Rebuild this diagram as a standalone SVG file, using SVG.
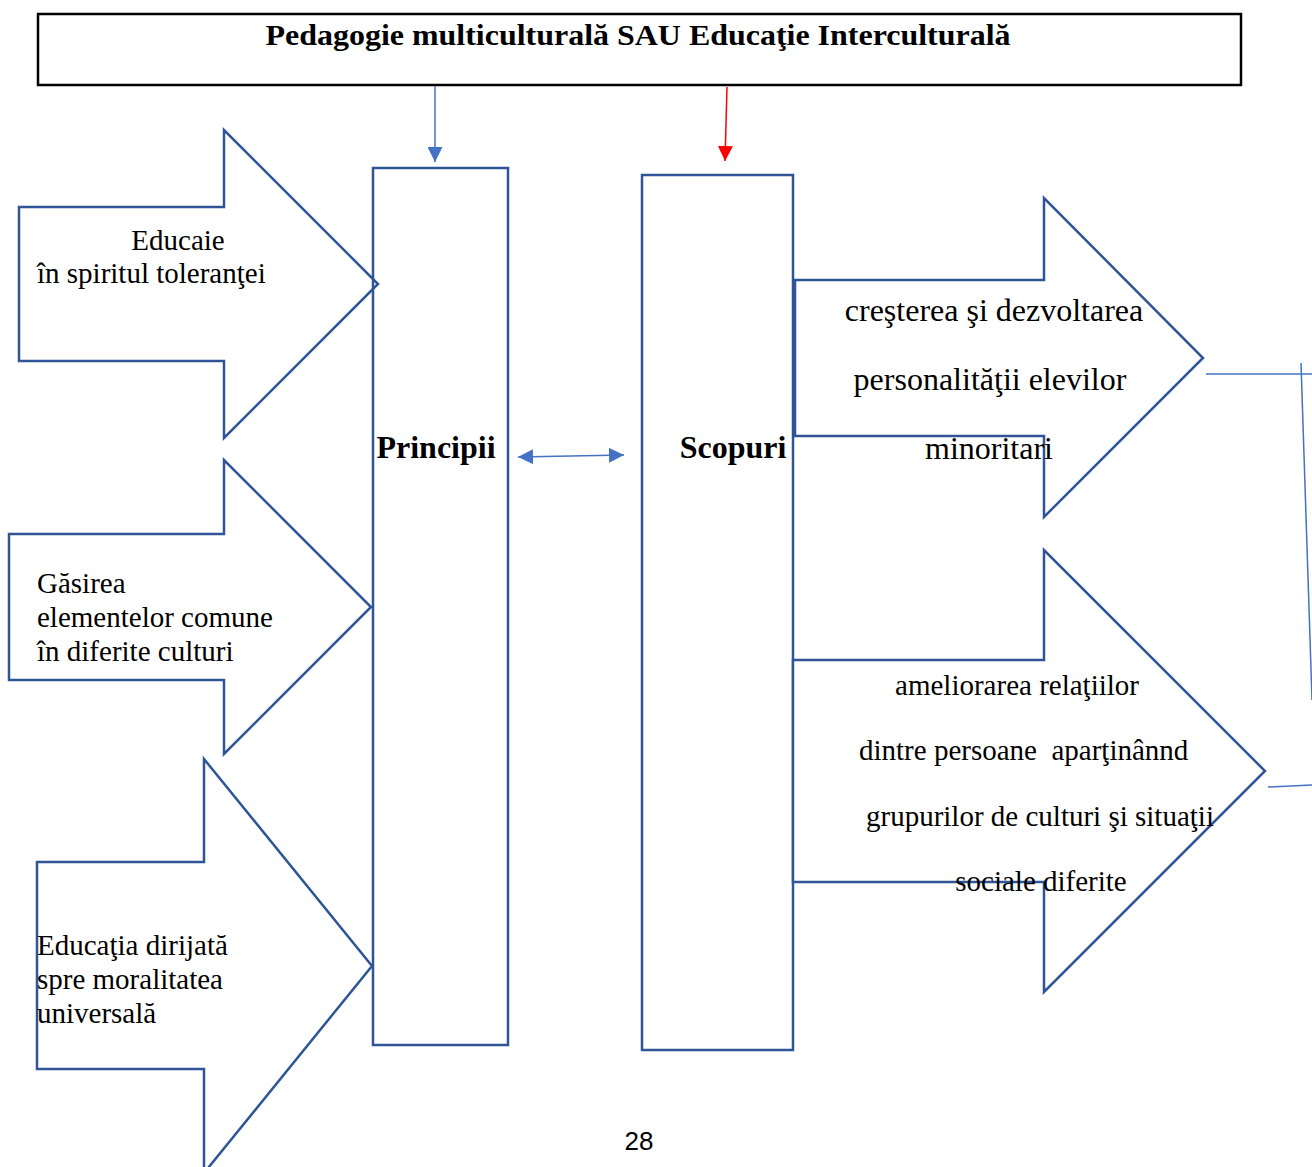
<svg xmlns="http://www.w3.org/2000/svg" width="1312" height="1167" viewBox="0 0 1312 1167">
<defs>
<style>
.shape{fill:#fff;stroke:#2F5597;stroke-width:2.5}
.box{fill:none;stroke:#2F5597;stroke-width:2.5}
.t{font-family:"Liberation Serif","Times New Roman",serif;font-size:29px;fill:#000}
.t2{font-family:"Liberation Serif","Times New Roman",serif;font-size:32px;fill:#000}
.b{font-family:"Liberation Serif","Times New Roman",serif;font-weight:bold;fill:#000}
.c{stroke:#4472C4;stroke-width:1.5;fill:none}
</style>
<marker id="ab2" viewBox="0 0 10 10" refX="10" refY="5" markerWidth="15" markerHeight="15" markerUnits="userSpaceOnUse" orient="auto-start-reverse"><path d="M0,0L10,5L0,10z" fill="#4472C4"/></marker>
<marker id="ar" viewBox="0 0 10 10" refX="10" refY="5" markerWidth="15" markerHeight="15" markerUnits="userSpaceOnUse" orient="auto"><path d="M0,0L10,5L0,10z" fill="#FF0000"/></marker>
</defs>
<rect width="1312" height="1167" fill="#fff"/>

<g id="title">
<rect x="38" y="14" width="1203" height="71" fill="#fff" stroke="#000" stroke-width="2.5"/>
<text class="b" x="638" y="45" font-size="30" text-anchor="middle" textLength="745" lengthAdjust="spacingAndGlyphs">Pedagogie multiculturală SAU Educaţie Interculturală</text>
</g>

<g id="arrow-toleranta">
<polygon class="shape" points="19,207 224,207 224,130 378,284 224,438 224,361 19,361"/>
<text class="t" x="178" y="250" text-anchor="middle">Educaie</text>
<text class="t" x="37" y="283">în spiritul toleranţei</text>
</g>

<g id="arrow-gasirea">
<polygon class="shape" points="9,534 224,534 224,460 371,607 224,754 224,680 9,680"/>
<text class="t" x="37" y="593">Găsirea</text>
<text class="t" x="37" y="627">elementelor comune</text>
<text class="t" x="37" y="661">în diferite culturi</text>
</g>

<g id="arrow-morala">
<polygon class="shape" points="37,862 204,862 204,759 372,966 204,1173 204,1069 37,1069"/>
<text class="t" x="37" y="955">Educaţia dirijată</text>
<text class="t" x="37" y="989">spre moralitatea</text>
<text class="t" x="37" y="1023">universală</text>
</g>

<g id="principii">
<rect class="box" x="373" y="168" width="135" height="877"/>
<text class="b" x="436" y="458" font-size="32" text-anchor="middle">Principii</text>
</g>

<g id="scopuri">
<rect class="box" x="642" y="175" width="151" height="875"/>
<text class="b" x="733" y="458" font-size="32" text-anchor="middle">Scopuri</text>
</g>

<g id="arrow-crestere">
<polygon class="shape" points="795,280 1044,280 1044,198 1203,358 1044,517 1044,436 795,436"/>
<text class="t2" x="994" y="321" text-anchor="middle">creşterea şi dezvoltarea</text>
<text class="t2" x="990" y="390" text-anchor="middle">personalităţii elevilor</text>
<text class="t2" x="989" y="459" text-anchor="middle">minoritari</text>
</g>

<g id="arrow-ameliorare">
<polygon class="shape" points="793,660 1044,660 1044,550 1265,771 1044,992 1044,882 793,882"/>
<text class="t" x="1017" y="695" text-anchor="middle">ameliorarea relaţiilor</text>
<text class="t" x="859" y="760" xml:space="preserve">dintre persoane  aparţinânnd</text>
<text class="t" x="866" y="826">grupurilor de culturi şi situaţii</text>
<text class="t" x="1041" y="891" text-anchor="middle">sociale diferite</text>
</g>

<g id="connectors">
<line class="c" x1="435" y1="86" x2="435" y2="162" marker-end="url(#ab2)"/>
<line x1="727" y1="87" x2="725" y2="161" stroke="#FF0000" stroke-width="1.5" marker-end="url(#ar)"/>
<line class="c" x1="518" y1="457" x2="624" y2="455" marker-start="url(#ab2)" marker-end="url(#ab2)"/>
<line class="c" x1="1206" y1="374" x2="1312" y2="374"/>
<line class="c" x1="1301" y1="363" x2="1312" y2="700"/>
<line class="c" x1="1268" y1="787" x2="1312" y2="785"/>
</g>

<text x="639" y="1150" font-family="'Liberation Sans',sans-serif" font-size="26" text-anchor="middle" fill="#000">28</text>
</svg>
